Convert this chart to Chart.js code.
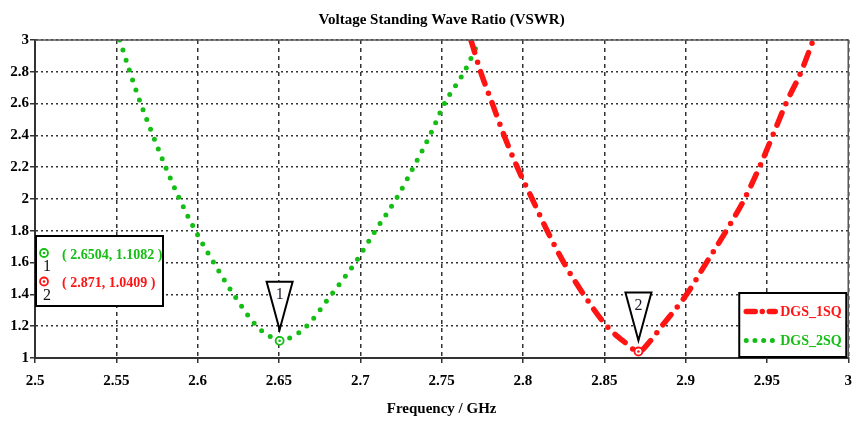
<!DOCTYPE html>
<html>
<head>
<meta charset="utf-8">
<title>VSWR</title>
<script src="https://cdn.jsdelivr.net/npm/chart.js@4.4.1/dist/chart.umd.min.js"></script>
<style>
  html, body { margin: 0; padding: 0; background: #fff; }
  #wrap { position: relative; width: 861px; height: 421px; }
</style>
</head>
<body>
<div id="wrap"><canvas id="vswrChart"></canvas></div>
<script>
// Axis ticks
const xTicks = [2.5, 2.55, 2.6, 2.65, 2.7, 2.75, 2.8, 2.85, 2.9, 2.95, 3];
const yTicks = [1, 1.2, 1.4, 1.6, 1.8, 2, 2.2, 2.4, 2.6, 2.8, 3];

// DGS_1SQ sweep (GHz / VSWR)
const freq1SQ = [2.7680, 2.7740, 2.7812, 2.7884, 2.7965, 2.8057, 2.8149, 2.8251, 2.8373, 2.8516, 2.8625, 2.8710,
                 2.8785, 2.8853, 2.9006, 2.9128, 2.9250, 2.9362, 2.9454, 2.9536, 2.9617, 2.9710, 2.9785];
const vswr1SQ = [3.0, 2.8, 2.6, 2.4, 2.2, 2.0, 1.8, 1.6, 1.4, 1.2, 1.10, 1.0409,
                 1.11, 1.2, 1.4, 1.6, 1.8, 2.0, 2.2, 2.4, 2.6, 2.8, 3.0];

// DGS_2SQ sweep
const freq2SQ = [2.5521, 2.5583, 2.5650, 2.5725, 2.5803, 2.5889, 2.5986, 2.6099, 2.6221, 2.6364, 2.6455, 2.6504,
                 2.6575, 2.6670, 2.6823, 2.6969, 2.7092, 2.7220, 2.7327, 2.7428, 2.7517, 2.7639, 2.7733];
const vswr2SQ = [3.0, 2.8, 2.6, 2.4, 2.2, 2.0, 1.8, 1.6, 1.4, 1.2, 1.13, 1.1082,
                 1.13, 1.2, 1.4, 1.6, 1.8, 2.0, 2.2, 2.4, 2.6, 2.8, 3.0];

// Markers
const markerIds = ["1", "2"];
const markerFreq = [2.6504, 2.871];
const markerVswr = [1.1082, 1.0409];

const RED = "#ff1414";
const GREEN = "#14be14";
const markerColors = [GREEN, RED];
const serif = '"Liberation Serif", "Times New Roman", serif';

const redDash = [13, 10, 0, 10];
const greenDash = [0, 10.5];

function toPoints(xs, ys) {
  return xs.map((x, i) => ({ x: x, y: ys[i] }));
}

function ring(ctx, x, y, color) {
  ctx.strokeStyle = color;
  ctx.fillStyle = "#fff";
  ctx.lineWidth = 1.8;
  ctx.beginPath();
  ctx.arc(x, y, 4, 0, Math.PI * 2);
  ctx.fill();
  ctx.stroke();
  ctx.fillStyle = color;
  ctx.beginPath();
  ctx.arc(x, y, 1.3, 0, Math.PI * 2);
  ctx.fill();
}

// Frame, marker flags, marker readout and legend box
const overlay = {
  id: "overlay",
  afterDatasetsDraw(chart) {
    const { ctx, chartArea: a, scales } = chart;
    ctx.save();

    ctx.strokeStyle = "#555";
    ctx.lineWidth = 1.5;
    ctx.beginPath();
    ctx.moveTo(a.left, a.top);
    ctx.lineTo(a.right, a.top);
    ctx.lineTo(a.right, a.bottom);
    ctx.stroke();

    // marker points with flag triangles
    markerFreq.forEach((f, i) => {
      const px = scales.x.getPixelForValue(f);
      const py = scales.y.getPixelForValue(markerVswr[i]);
      ring(ctx, px, py, markerColors[i]);

      const tip = py - 11, top = tip - 48;
      ctx.beginPath();
      ctx.moveTo(px - 13, top);
      ctx.lineTo(px + 13, top);
      ctx.lineTo(px, tip);
      ctx.closePath();
      ctx.fillStyle = "#fff";
      ctx.fill();
      ctx.strokeStyle = "#000";
      ctx.lineWidth = 2;
      ctx.stroke();

      ctx.fillStyle = "#1a1a2a";
      ctx.font = "16px " + serif;
      ctx.textAlign = "center";
      ctx.textBaseline = "middle";
      ctx.fillText(markerIds[i], px, top + 13);
    });

    // marker readout box
    const bx = a.left + 1, by = a.top + 196, bw = 127, bh = 70;
    ctx.fillStyle = "#fff";
    ctx.fillRect(bx, by, bw, bh);
    ctx.strokeStyle = "#000";
    ctx.lineWidth = 2;
    ctx.strokeRect(bx, by, bw, bh);
    markerFreq.forEach((f, i) => {
      const rowY = by + 18 + i * 28.5;
      ring(ctx, bx + 8, rowY - 1, markerColors[i]);
      ctx.fillStyle = "#111";
      ctx.font = "16px " + serif;
      ctx.textAlign = "center";
      ctx.textBaseline = "middle";
      ctx.fillText(markerIds[i], bx + 11, rowY + 13);
      ctx.fillStyle = markerColors[i];
      ctx.font = "bold 14px " + serif;
      ctx.textAlign = "left";
      ctx.fillText("( " + f + ", " + markerVswr[i] + " )", bx + 26, rowY + 1);
    });

    // legend
    const lw = 107, lh = 64;
    const lx = a.right - lw - 2, ly = a.bottom - lh - 1;
    ctx.fillStyle = "#fff";
    ctx.fillRect(lx, ly, lw, lh);
    ctx.strokeStyle = "#000";
    ctx.lineWidth = 2;
    ctx.strokeRect(lx, ly, lw, lh);

    const entries = [
      { label: "DGS_1SQ", color: RED, dash: [9, 7, 0, 7], width: 5.5 },
      { label: "DGS_2SQ", color: GREEN, dash: [0, 8.7], width: 5 }
    ];
    entries.forEach((e, i) => {
      const rowY = ly + 18.5 + i * 29;
      ctx.strokeStyle = e.color;
      ctx.lineWidth = e.width;
      ctx.lineCap = "round";
      ctx.setLineDash(e.dash);
      ctx.beginPath();
      ctx.moveTo(lx + 7, rowY);
      ctx.lineTo(lx + 36, rowY);
      ctx.stroke();
      ctx.setLineDash([]);
      ctx.fillStyle = e.color;
      ctx.font = "bold 14px " + serif;
      ctx.textAlign = "left";
      ctx.textBaseline = "middle";
      ctx.fillText(e.label, lx + 41, rowY + 1);
    });

    ctx.restore();
  }
};

const ctx = document.getElementById("vswrChart").getContext("2d");

const vswrChart = new Chart(ctx, {
  type: "scatter",
  data: {
    datasets: [
      {
        label: "DGS_1SQ",
        data: toPoints(freq1SQ, vswr1SQ),
        showLine: true,
        borderColor: RED,
        borderWidth: 5.5,
        borderDash: redDash,
        borderCapStyle: "round",
        cubicInterpolationMode: "monotone",
        pointRadius: 0
      },
      {
        label: "DGS_2SQ",
        data: toPoints(freq2SQ, vswr2SQ),
        showLine: true,
        borderColor: GREEN,
        borderWidth: 5,
        borderDash: greenDash,
        borderCapStyle: "round",
        cubicInterpolationMode: "monotone",
        pointRadius: 0
      }
    ]
  },
  options: {
    responsive: true,
    maintainAspectRatio: false,
    animation: false,
    layout: { padding: { right: 8, left: 0, top: 0, bottom: 0 } },
    plugins: {
      legend: { display: false },
      tooltip: { enabled: false },
      title: {
        display: true,
        text: "Voltage Standing Wave Ratio (VSWR)",
        fullSize: false,
        color: "#000",
        font: { family: serif, size: 15, weight: "bold" },
        padding: { top: 11, bottom: 11 }
      }
    },
    scales: {
      x: {
        type: "linear",
        min: 2.5,
        max: 3,
        afterBuildTicks: (scale) => { scale.ticks = xTicks.map((v) => ({ value: v })); },
        afterFit: (scale) => { scale.height = 63; },
        ticks: {
          color: "#000",
          padding: 9,
          maxRotation: 0,
          font: { family: serif, size: 15, weight: "bold" },
          callback: (v) => String(v)
        },
        grid: {
          color: "#333",
          lineWidth: 1.5,
          tickLength: 5
        },
        border: { color: "#333", width: 2, dash: [4, 4] },
        title: {
          display: true,
          text: "Frequency / GHz",
          color: "#000",
          font: { family: serif, size: 15, weight: "bold" },
          padding: { top: 0, bottom: 3 }
        }
      },
      y: {
        min: 1,
        max: 3,
        afterBuildTicks: (scale) => { scale.ticks = yTicks.map((v) => ({ value: v })); },
        afterFit: (scale) => { scale.width = 35; },
        ticks: {
          color: "#000",
          padding: 1,
          font: { family: serif, size: 15, weight: "bold" },
          callback: (v) => String(v)
        },
        grid: {
          color: "#333",
          lineWidth: 1.5,
          tickLength: 5
        },
        border: { color: "#333", width: 2, dash: [2, 3] }
      }
    }
  },
  plugins: [overlay]
});
</script>
</body>
</html>
